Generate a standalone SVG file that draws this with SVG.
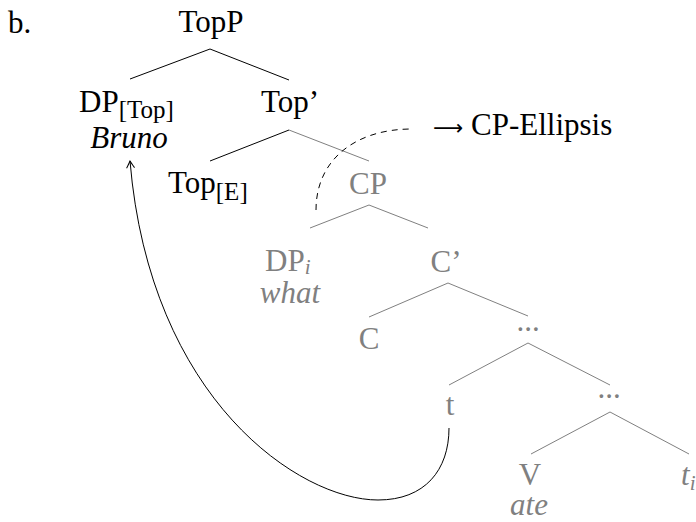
<svg xmlns="http://www.w3.org/2000/svg" width="696" height="522" viewBox="0 0 696 522">
<style>
text{font-family:"Liberation Serif","DejaVu Serif",serif;font-size:31px;fill:#000}
.g{fill:#808080}
.sub{font-size:25px}
.si{font-size:21px}
.it{font-style:italic}
.c{text-anchor:middle}
.ar{font-family:"DejaVu Sans",sans-serif;font-size:21px}
.e{stroke:#000;stroke-width:1;fill:none}
.eg{stroke:#808080;stroke-width:1;fill:none}
</style>
<defs>
<marker id="ah" viewBox="-8 -5 10 10" markerWidth="10" markerHeight="10" refX="0" refY="0" orient="auto" markerUnits="userSpaceOnUse">
<path d="M-7,-4 Q-2,-1 0,0 Q-2,1 -7,4" fill="none" stroke="#000" stroke-width="1"/>
</marker>
</defs>
<text x="8" y="33">b.</text>
<g id="edges">
<line class="e" x1="210" y1="49" x2="130" y2="79"/>
<line class="e" x1="210" y1="49" x2="289" y2="80"/>
<line class="e" x1="289" y1="130" x2="210" y2="161"/>
<line class="eg" x1="289" y1="130" x2="369" y2="161"/>
<line class="eg" x1="369" y1="205" x2="310" y2="228"/>
<line class="eg" x1="369" y1="205" x2="428" y2="228"/>
<line class="eg" x1="448" y1="283" x2="369" y2="317"/>
<line class="eg" x1="448" y1="283" x2="528" y2="316"/>
<line class="eg" x1="528" y1="343" x2="449" y2="385"/>
<line class="eg" x1="528" y1="343" x2="610" y2="385"/>
<line class="eg" x1="610" y1="412" x2="531" y2="454"/>
<line class="eg" x1="610" y1="412" x2="689" y2="454"/>
<path class="e" stroke-dasharray="6,5" d="M316,210 C316,160 355,129 412,129"/>
<path class="e" marker-end="url(#ah)" d="M449,428 C449,470 425,500 378,500 C300,500 150,400 130,161"/>
</g>
<g id="TopP"><text class="c" x="211" y="32">TopP</text></g>
<g id="DPTop"><text x="79" y="112">DP<tspan class="sub" dy="6">[Top]</tspan></text><text class="c it" x="129" y="148">Bruno</text></g>
<g id="TopBar"><text class="c" x="290" y="112">Top’</text></g>
<g id="TopE"><text x="168" y="193">Top<tspan class="sub" dy="7">[E]</tspan></text></g>
<g id="ellipsis-label"><text class="ar" x="433" y="135">⟶</text><text x="471" y="135">CP-Ellipsis</text></g>
<g id="CP"><text class="c g" x="368" y="194">CP</text></g>
<g id="DPi"><text class="g" x="265" y="271">DP<tspan class="si it" dy="3">i</tspan></text><text class="c g it" x="290" y="303">what</text></g>
<g id="Cbar"><text class="c g" x="446" y="272">C’</text></g>
<g id="C"><text class="c g" x="369" y="349">C</text></g>
<g id="dots1"><text class="c g" x="528" y="331">...</text></g>
<g id="t"><text class="c g" x="450" y="415">t</text></g>
<g id="dots2"><text class="c g" x="609" y="398">...</text></g>
<g id="V"><text class="c g" x="530" y="485">V</text><text class="c g it" x="529" y="515">ate</text></g>
<g id="ti"><text class="g it" x="681" y="485">t<tspan class="si" dy="5">i</tspan></text></g>
</svg>
